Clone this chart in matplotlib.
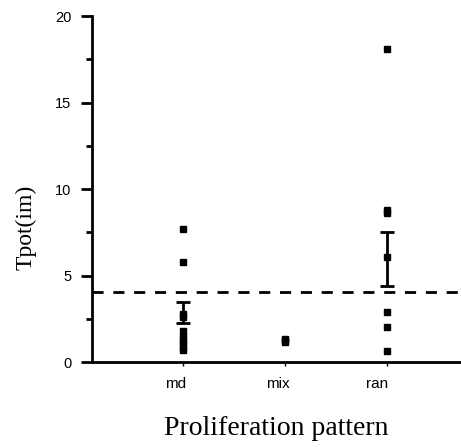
import matplotlib.pyplot as plt
import numpy as np

categories = ['md', 'mix', 'ran']
md_vals = [7.7, 5.8, 2.8, 2.6, 1.8, 1.5, 1.3, 1.1, 0.9, 0.7]
mix_vals = [1.35, 1.25, 1.15]
ran_vals = [18.1, 8.8, 8.6, 6.1, 2.9, 2.0, 0.65]
err_mean = [2.87, None, 5.95]
err_half = [0.6, None, 1.55]
ref_line = 4.05

fig = plt.figure(figsize=(4.61, 4.47), dpi=100)
ax = fig.add_axes([0.2, 0.19, 0.798, 0.774])

groups = [md_vals, mix_vals, ran_vals]
for i, vals in enumerate(groups):
    x = np.full(len(vals), i + 1)
    ax.plot(x, vals, 's', color='black', markersize=4, linestyle='none')
    if err_mean[i] is not None:
        ax.errorbar(i + 1, err_mean[i], yerr=err_half[i], fmt='none',
                    ecolor='black', elinewidth=2, capsize=5, capthick=2)

ax.axhline(ref_line, color='black', linestyle=(0, (4, 3.5)), linewidth=2)

ax.set_xlim(0.11, 3.72)
ax.set_ylim(0, 20)
# small ticks at the columns, labels sit slightly to the left of them
ax.set_xticks([1, 2, 3])
ax.set_xticklabels([])
ax.set_xticks([0.93, 1.93, 2.91], minor=True)
ax.set_xticklabels(categories, minor=True, fontfamily='Liberation Sans', fontsize=11)
ax.set_yticks([0, 5, 10, 15, 20])
ax.set_yticks([2.5, 7.5, 12.5, 17.5], minor=True)
ax.set_yticklabels(['0', '5', '10', '15', '20'], fontfamily='Liberation Sans', fontsize=10.5)
ax.tick_params(axis='y', which='major', length=8, width=2, direction='out', pad=7)
ax.tick_params(axis='y', which='minor', length=4, width=2, direction='out')
ax.tick_params(axis='x', which='major', length=3, width=1, direction='out')
ax.tick_params(axis='x', which='minor', length=0, pad=11)

for s in ['top', 'right']:
    ax.spines[s].set_visible(False)
ax.spines['left'].set_linewidth(2)
ax.spines['bottom'].set_linewidth(2)

ax.set_ylabel('Tpot(im)', fontfamily='Liberation Serif', fontsize=17)
ax.yaxis.set_label_coords(-0.152, 0.39)
ax.set_xlabel('Proliferation pattern', fontfamily='Liberation Serif', fontsize=20, labelpad=18)

fig.savefig('out.png', dpi=100)
